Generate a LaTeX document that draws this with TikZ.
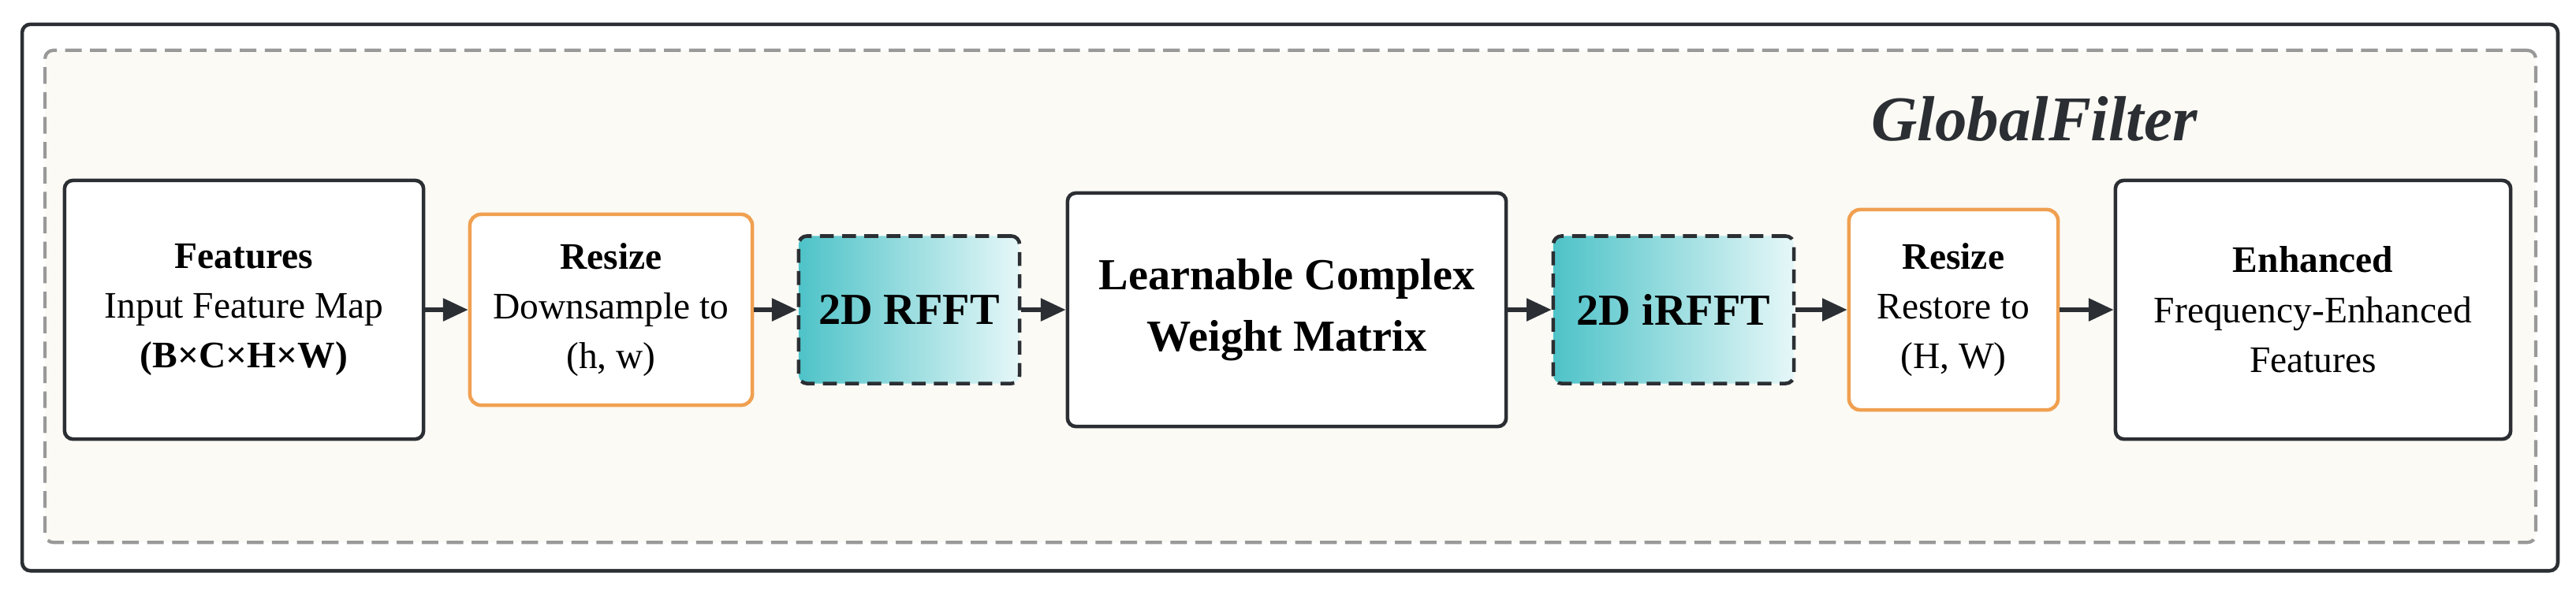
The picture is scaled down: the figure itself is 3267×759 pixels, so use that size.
\documentclass[tikz,border=0pt]{standalone}
\usepackage{fontspec}
\setmainfont{Liberation Serif}
\usetikzlibrary{arrows.meta}
\definecolor{dk}{HTML}{2B2F33}
\definecolor{org}{HTML}{F0A050}
\definecolor{teal1}{HTML}{4EC3C8}
\definecolor{teal2}{HTML}{E6F7F8}
\definecolor{bg}{HTML}{FBFAF5}
\begin{document}
\begin{tikzpicture}[x=0.01cm,y=-0.01cm,
  box/.style={draw=dk,line width=1.3pt,rounded corners=3pt,fill=white,align=center,inner sep=0pt,font=\fontsize{13.5}{18}\selectfont},
  rs/.style={draw=org,line width=1.3pt,rounded corners=4pt,fill=white,align=center,inner sep=0pt,font=\fontsize{13.5}{18}\selectfont},
  ff/.style={draw=dk,line width=1.3pt,dashed,dash pattern=on 5pt off 3pt,rounded corners=3pt,left color=teal1,right color=teal2,align=center,inner sep=0pt,font=\fontsize{16}{20}\selectfont\bfseries},
  arr/.style={-{Triangle[length=9pt,width=8pt]},line width=1.5pt,draw=dk}]
\useasboundingbox (0,0) rectangle (3267,759);
\node[draw=dk,line width=1.3pt,rounded corners=3pt,minimum width=32.14cm,minimum height=6.93cm,inner sep=0pt] (outer) at (1636,377.5) {};
\node[draw=gray!80,line width=1.2pt,dash pattern=on 6pt off 3pt,rounded corners=3pt,fill=bg,minimum width=31.57cm,minimum height=6.24cm,inner sep=0pt] (inner) at (1636.5,376) {};
\node[font=\fontsize{23}{27}\selectfont\bfseries\itshape,text=dk] (title) at (2580,151) {GlobalFilter};
\node[box,minimum width=4.55cm,minimum height=3.28cm] (feat) at (309.5,393) {\textbf{Features}\\Input Feature Map\\\textbf{(B×C×H×W)}};
\node[rs,minimum width=3.58cm,minimum height=2.42cm] (rs1) at (775,393) {\textbf{Resize}\\Downsample to\\(h, w)};
\node[ff,minimum width=2.80cm,minimum height=1.87cm] (rfft) at (1153,393) {2D RFFT};
\node[box,minimum width=5.56cm,minimum height=2.96cm,font=\fontsize{16}{22}\selectfont\bfseries] (lw) at (1632,393) {Learnable Complex\\Weight Matrix};
\node[ff,minimum width=3.05cm,minimum height=1.87cm] (irfft) at (2122.5,393) {2D iRFFT};
\node[rs,minimum width=2.65cm,minimum height=2.54cm] (rs2) at (2477.5,393) {\textbf{Resize}\\Restore to\\(H, W)};
\node[box,minimum width=5.01cm,minimum height=3.28cm] (enh) at (2933.5,393) {\textbf{Enhanced}\\Frequency-Enhanced\\Features};
\draw[arr] (feat) -- (rs1);
\draw[arr] (rs1) -- (rfft);
\draw[arr] (rfft) -- (lw);
\draw[arr] (lw) -- (irfft);
\draw[arr] (irfft) -- (rs2);
\draw[arr] (rs2) -- (enh);
\end{tikzpicture}
\end{document}
